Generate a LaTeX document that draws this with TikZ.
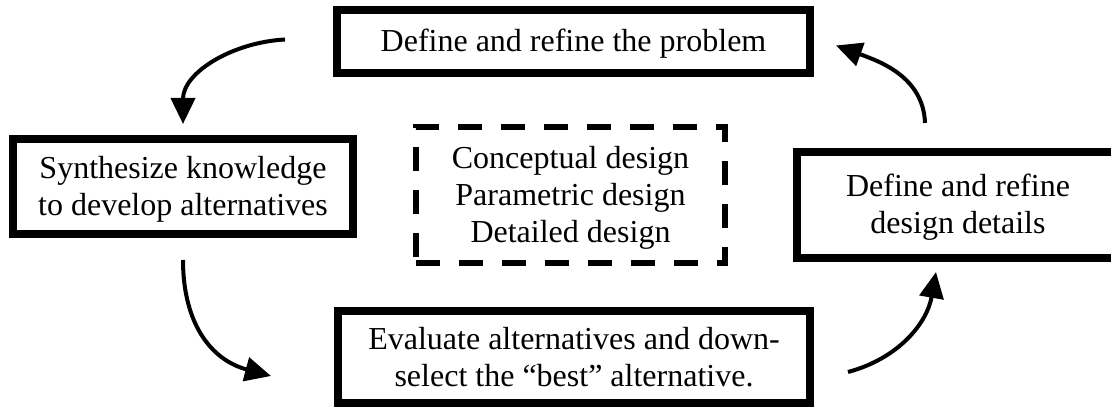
\documentclass[tikz,border=0pt]{standalone}
\usepackage{fontspec}
\setmainfont{Liberation Serif}
\usetikzlibrary{arrows.meta}

\newcommand\lnstrut{\rule[-8pt]{0pt}{37pt}}
\tikzset{
  stagebox/.style={draw, line width=8pt, inner sep=0pt, align=center,
    font=\fontsize{32pt}{37pt}\selectfont},
  levelbox/.style={draw, line width=6pt, dash pattern=on 24pt off 19pt,
    inner sep=0pt, align=center, font=\fontsize{32pt}{37pt}\selectfont},
  cyclearrow/.style={line width=4pt, -{Triangle[length=26pt,width=24pt]}}
}

\begin{document}
\begin{tikzpicture}[x=1pt,y=1pt]
        \clip (0,0) rectangle (1111,410);
        % the design loop
        \node[stagebox, minimum width=473pt, minimum height=63pt] (problem) at (573.5,368.5) {\lnstrut Define and refine the problem};
        \node[stagebox, minimum width=340pt, minimum height=95pt] (synth) at (183,223.5) {\lnstrut Synthesize knowledge\\\lnstrut to develop alternatives};
        \node[levelbox, minimum width=309pt, minimum height=136pt] (levels) at (570.5,215) {\lnstrut Conceptual design\\\lnstrut Parametric design\\\lnstrut Detailed design};
        \node[stagebox, minimum width=322pt, minimum height=106pt] (details) at (958,205) {\lnstrut Define and refine\\\lnstrut design details};
        \node[stagebox, minimum width=472pt, minimum height=92pt] (evaluate) at (574,53) {\lnstrut Evaluate alternatives and down-\\\lnstrut select the “best” alternative.};
        % arrows round the loop
        \draw[cyclearrow] ([xshift=-48pt,yshift=2pt]problem.west) to[out=183,in=90] ([yshift=11pt]synth.north);
        \draw[cyclearrow] ([yshift=-22pt]synth.south) to[out=-90,in=165,looseness=1.1] ([xshift=-63pt,yshift=-19pt]evaluate.west);
        \draw[cyclearrow] ([xshift=34pt,yshift=-15pt]evaluate.east) to[out=15,in=-100] ([xshift=-22pt,yshift=-10pt]details.south);
        \draw[cyclearrow] ([xshift=-33pt,yshift=25pt]details.north) to[out=92,in=-20] ([xshift=22pt,yshift=-4pt]problem.east);
    \end{tikzpicture}
\end{document}
